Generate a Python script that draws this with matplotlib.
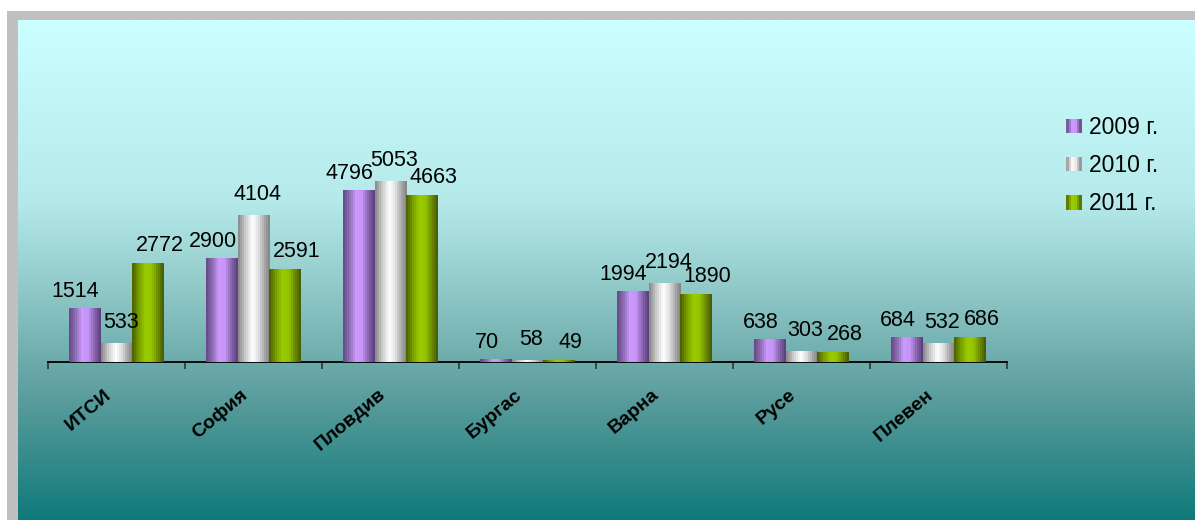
import numpy as np
import matplotlib
matplotlib.use("Agg")
import matplotlib.pyplot as plt
from matplotlib.colors import LinearSegmentedColormap
from matplotlib.patches import Rectangle
from matplotlib.legend_handler import HandlerBase

# ---------------- data ----------------
categories = ["ИТСИ", "София", "Пловдив", "Бургас", "Варна", "Русе", "Плевен"]
series_names = ["2009 г.", "2010 г.", "2011 г."]
values_2009 = [1514, 2900, 4796, 70, 1994, 638, 684]
values_2010 = [533, 4104, 5053, 58, 2194, 303, 532]
values_2011 = [2772, 2591, 4663, 49, 1890, 268, 686]

# ---------------- style ----------------
plt.rcParams['font.family'] = ['Liberation Sans', 'DejaVu Sans']
W, H = 1195, 520
fig = plt.figure(figsize=(W / 100, H / 100), dpi=100)

# outer gray frame
fig.patches.append(Rectangle((7 / W, 0), 1 - 7 / W, 1 - 11 / H, transform=fig.transFigure,
                             facecolor="#C0C0C0", edgecolor="none", zorder=-10))

# inner gradient background
bg = fig.add_axes([18 / W, 0, 1 - 18 / W, 1 - 20 / H], zorder=-5)
bg_cmap = LinearSegmentedColormap.from_list("bg", [
    (0.0, (204 / 255, 255 / 255, 255 / 255)),
    (0.36, (182 / 255, 234 / 255, 234 / 255)),
    (0.56, (140 / 255, 196 / 255, 196 / 255)),
    (0.76, (90 / 255, 156 / 255, 156 / 255)),
    (1.0, (16 / 255, 122 / 255, 122 / 255)),
])
bg.imshow(np.linspace(0, 1, 256)[:, None], cmap=bg_cmap, aspect="auto",
          extent=(0, 1, 0, 1), interpolation="bilinear")
bg.set_axis_off()

cyl_cmaps = [
    LinearSegmentedColormap.from_list("p", [(0, "#6A4C8C"), (0.2, "#9070B8"), (0.4, "#CC99FF"),
                                            (0.6, "#C595F5"), (0.8, "#8C68B2"), (1, "#5E4280")]),
    LinearSegmentedColormap.from_list("w", [(0, "#8E8E8E"), (0.2, "#C8C8C8"), (0.45, "#FFFFFF"),
                                            (0.65, "#E0E0E0"), (0.85, "#A8A8A8"), (1, "#888888")]),
    LinearSegmentedColormap.from_list("g", [(0, "#4F6600"), (0.2, "#7A9E00"), (0.42, "#9ACC00"),
                                            (0.62, "#94C400"), (0.82, "#6E8E00"), (1, "#4A6000")]),
]
# label nudges (pixels) per series, imitating the original placement
label_dx = [-9, 4, 11]
label_dy = [11, 15, 12]

# ---------------- main axes ----------------
x0, x1, base = 48, 1007, 362
ymax = 9000
px_per_unit = 181 / 5053
ax = fig.add_axes([x0 / W, (H - base) / H, (x1 - x0) / W, ymax * px_per_unit / H])
ax.set_facecolor("none")
ax.set_xlim(-0.5, len(categories) - 0.5)
ax.set_ylim(0, ymax)

x = np.arange(len(categories))
bw = 0.233
all_vals = [values_2009, values_2010, values_2011]
grad = np.linspace(0, 1, 16)[None, :]
for s, vals in enumerate(all_vals):
    bars = ax.bar(x + (s - 1) * bw, vals, width=bw, color=cyl_cmaps[s](0.4), edgecolor="none",
                  zorder=2)
    for b, v in zip(bars, vals):
        bx, by = b.get_x(), b.get_y()
        im = ax.imshow(grad, cmap=cyl_cmaps[s], aspect="auto", interpolation="nearest",
                       extent=(bx, bx + b.get_width(), by, by + b.get_height()), zorder=3)
        im.set_clip_path(b)
        ax.annotate(f"{v}", (bx + b.get_width() / 2, v), xytext=(label_dx[s], label_dy[s]),
                    textcoords="offset pixels", ha="center", va="baseline", fontsize=15.5,
                    color="black", zorder=4)

ax.set_xlim(-0.5, len(categories) - 0.5)
ax.set_ylim(0, ymax)

for sp in ["top", "right", "left"]:
    ax.spines[sp].set_visible(False)
ax.spines["bottom"].set_linewidth(1.3)
ax.spines["bottom"].set_color("black")
ax.set_yticks([])
ax.set_xticks(np.arange(len(categories) + 1) - 0.5)
ax.set_xticklabels([])
ax.tick_params(axis="x", direction="out", length=5, width=1.2, color="#333333")

for i, c in enumerate(categories):
    ax.annotate(c, (i, 0), xytext=(-13, -24), textcoords="offset pixels", rotation=40,
                rotation_mode="anchor", ha="right", va="top", fontsize=14,
                fontweight="bold", color="black")

# ---------------- legend ----------------
class CylHandler(HandlerBase):
    def __init__(self, cmap):
        super().__init__()
        self.cmap = cmap

    def create_artists(self, legend, orig_handle, xdescent, ydescent, width, height,
                       fontsize, trans):
        n = 6
        w = width / n
        arts = []
        for k in range(n):
            arts.append(Rectangle((-xdescent + k * w, -ydescent), w * 1.05, height,
                                  facecolor=self.cmap((k + 0.5) / n), edgecolor="none",
                                  transform=trans))
        return arts

handles = [Rectangle((0, 0), 1, 1) for _ in series_names]
leg = fig.legend(handles, series_names, loc="upper left",
                 bbox_to_anchor=(1066 / W, 1 - 116 / H), frameon=False, fontsize=16.5,
                 handlelength=0.7, handleheight=0.61, handletextpad=0.3, labelspacing=0.66,
                 borderaxespad=0, borderpad=0,
                 handler_map={h: CylHandler(cm) for h, cm in zip(handles, cyl_cmaps)})

fig.savefig("out.png", dpi=100)
